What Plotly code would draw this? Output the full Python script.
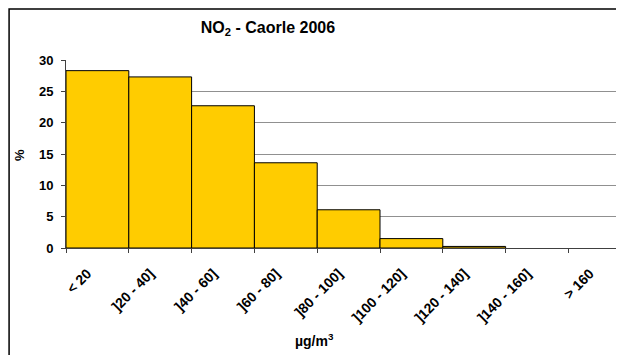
import plotly.graph_objects as go

classes = ["< 20", "]20 - 40]", "]40 - 60]", "]60 - 80]", "]80 - 100]",
           "]100 - 120]", "]120 - 140]", "]140 - 160]", "> 160"]
percent = [28.3, 27.3, 22.7, 13.6, 6.1, 1.5, 0.25, 0.0, 0.0]

font = "Liberation Sans, Arial, sans-serif"

fig = go.Figure(go.Bar(
    x=classes, y=percent,
    width=1,
    marker=dict(color="#FFCC00",
                line=dict(color="black", width=[1 if v > 0 else 0 for v in percent])),
))

# page body has an 8px margin, so the figure is sized to fit the window
fig.update_layout(
    width=616, height=347,
    margin=dict(l=58, r=0, t=52, b=107, autoexpand=False),
    paper_bgcolor="white", plot_bgcolor="white",
    font=dict(family=font, size=12, color="black"),
    showlegend=False,
    title=dict(text="<b>NO<sub>2</sub> - Caorle 2006</b>", xref="container", x=0.422,
               xanchor="center", y=0.945, yanchor="middle", font=dict(size=16)),
)

fig.update_xaxes(
    range=[-0.5, 8.385],
    automargin=False,
    tickangle=-45,
    tickfont=dict(size=14, family=font, weight="bold"),
    ticklabelstandoff=11,
    ticklabelshift=-10,
    ticks="outside", ticklen=4, tickcolor="#404040",
    tickson="boundaries",
    showline=True, linecolor="#404040", linewidth=1,
    showgrid=False,
)
fig.update_yaxes(
    range=[0, 30], dtick=5,
    automargin=False,
    tickfont=dict(size=13, family=font, weight="bold"),
    ticklabelstandoff=5,
    ticks="outside", ticklen=4, tickcolor="#404040",
    showline=True, linecolor="#404040", linewidth=1,
    showgrid=True, gridcolor="#909090", gridwidth=1,
    zeroline=False,
)

fig.add_annotation(text="<b>µg/m<sup>3</sup></b>", xref="paper", yref="paper",
                   x=0.446, y=-0.489, xanchor="center", yanchor="middle",
                   showarrow=False, font=dict(size=14))
fig.add_annotation(text="<b>%</b>", xref="paper", yref="paper", textangle=-90,
                   x=-0.0824, y=0.495, xanchor="center", yanchor="middle",
                   showarrow=False, font=dict(size=13))

# outer chart border
fig.add_shape(type="rect", xref="paper", yref="paper",
              x0=-0.102, x1=1.1, y0=-0.7, y1=1.271,
              line=dict(color="black", width=1.5), fillcolor="rgba(0,0,0,0)")

fig.write_html("out.html")
